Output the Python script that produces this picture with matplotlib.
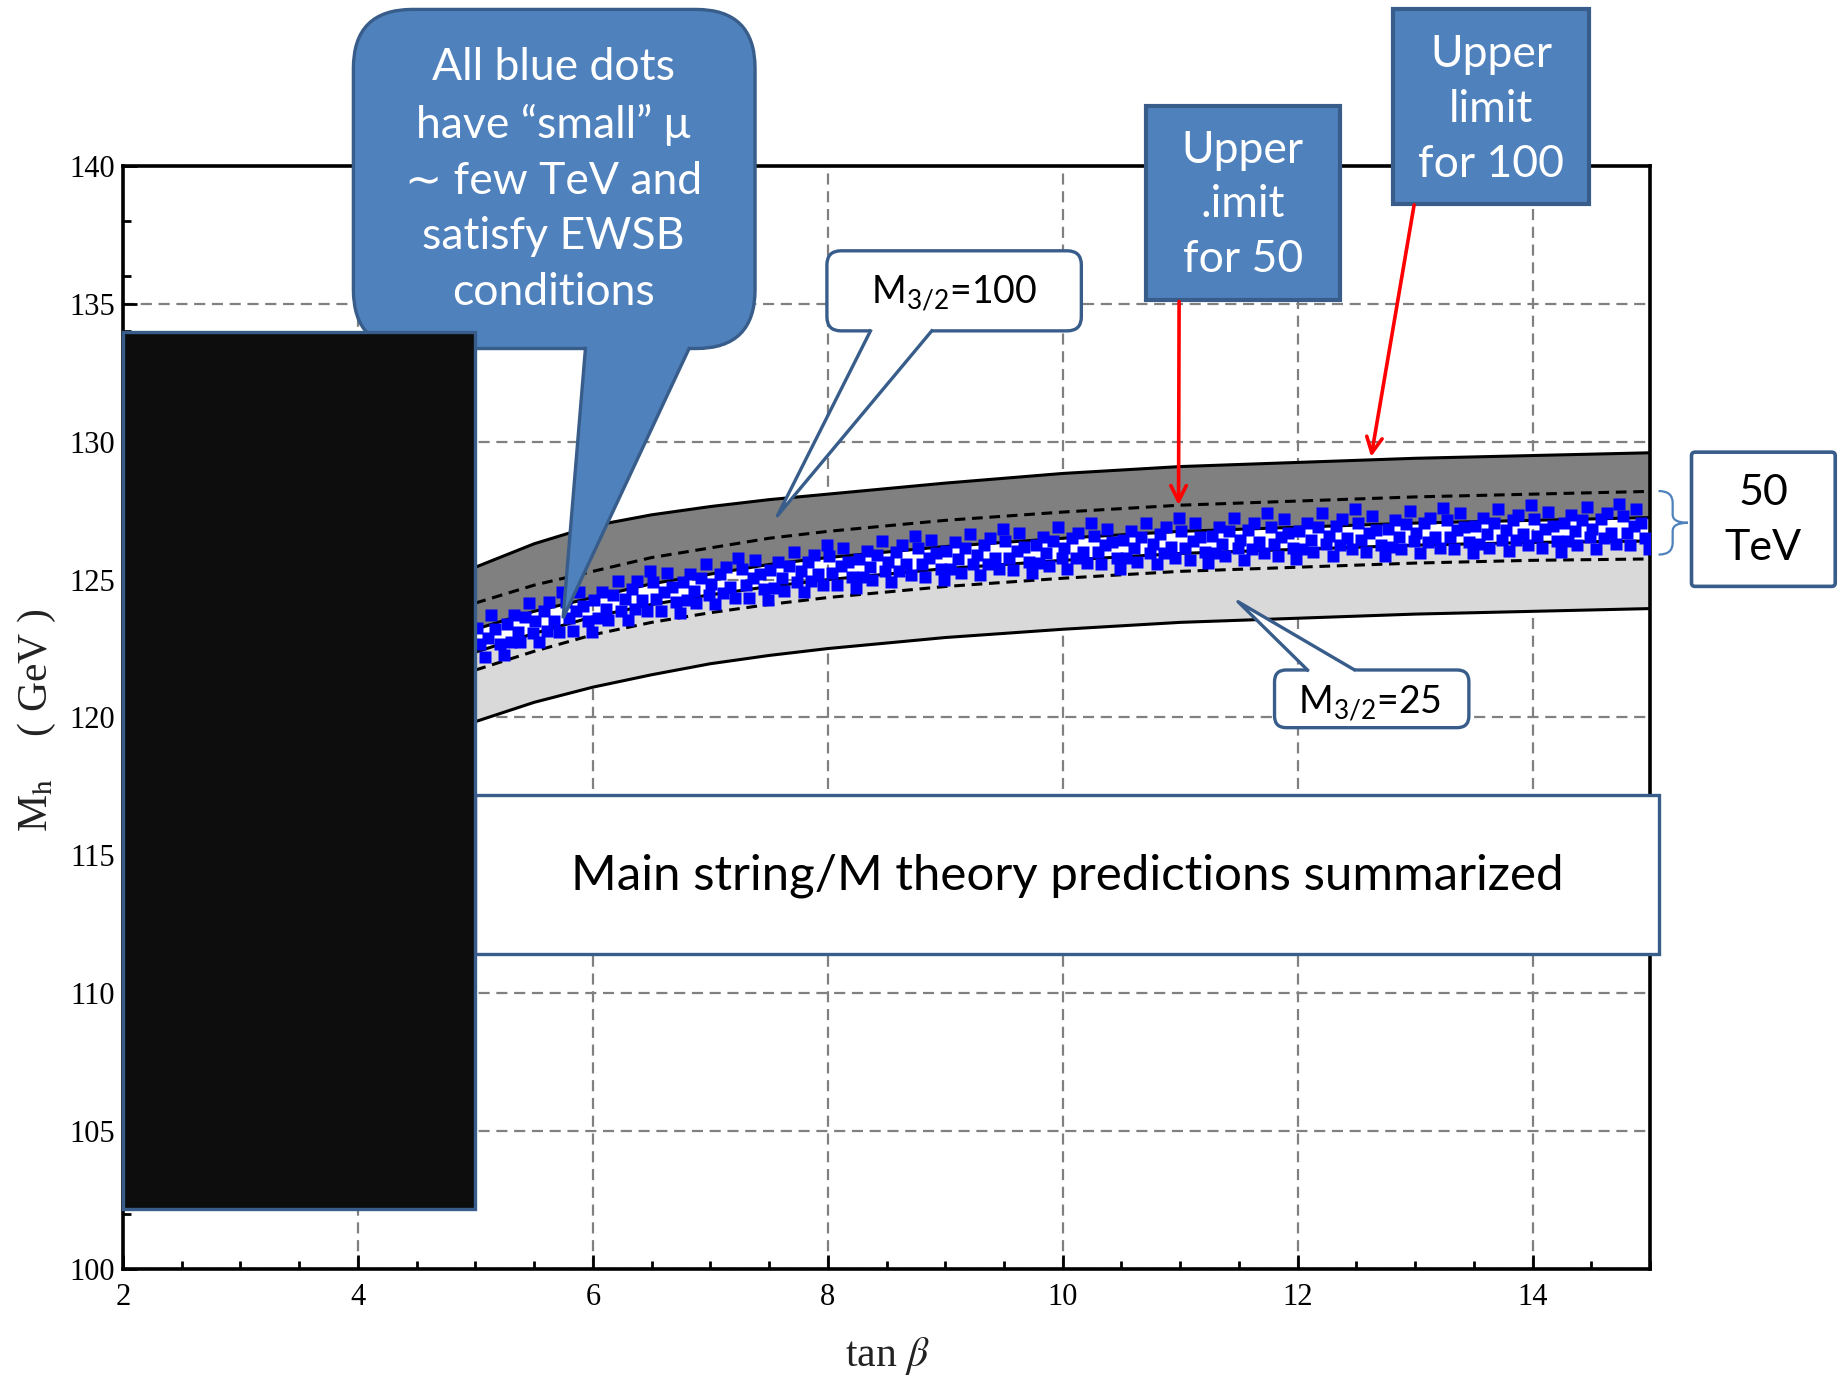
import matplotlib
matplotlib.use('Agg')
import matplotlib.pyplot as plt
from matplotlib.patches import FancyBboxPatch, Rectangle, Polygon, PathPatch
from matplotlib.path import Path

plt.rcParams['font.family'] = ['Lato', 'DejaVu Sans']
plt.rcParams['mathtext.fontset'] = 'custom'
plt.rcParams['mathtext.rm'] = 'Lato'
plt.rcParams['mathtext.it'] = 'Lato:italic'
plt.rcParams['mathtext.bf'] = 'Lato:bold'

# ---------------- data ----------------
band_tb = [5.0, 5.5, 6.0, 6.5, 7.0, 7.5, 8.0, 9.0, 10.0, 11.0, 12.0, 13.0, 14.0, 15.0]
upper_100 = [125.45, 126.3, 126.95, 127.35, 127.65, 127.9, 128.1, 128.5, 128.85, 129.1, 129.25, 129.4, 129.5, 129.6]
upper_50 = [124.15, 124.8, 125.3, 125.8, 126.15, 126.5, 126.75, 127.15, 127.45, 127.7, 127.85, 128.0, 128.1, 128.2]
lower_100 = [123.2, 123.85, 124.35, 124.85, 125.2, 125.55, 125.8, 126.2, 126.5, 126.75, 126.9, 127.05, 127.15, 127.25]
upper_25 = [122.37, 123.05, 123.65, 124.1, 124.45, 124.75, 125.0, 125.4, 125.7, 125.95, 126.1, 126.25, 126.35, 126.4]
lower_50 = [121.72, 122.4, 123.0, 123.45, 123.8, 124.1, 124.35, 124.75, 125.05, 125.3, 125.45, 125.6, 125.7, 125.75]
lower_25 = [119.85, 120.55, 121.1, 121.55, 121.95, 122.25, 122.5, 122.9, 123.2, 123.45, 123.6, 123.75, 123.85, 123.95]

dots_tb = [
    5.01, 5.04, 5.08, 5.11, 5.13, 5.17, 5.21, 5.24, 5.27, 5.30, 5.33, 5.36, 5.38, 5.42, 5.46, 5.49,
    5.51, 5.54, 5.58, 5.61, 5.63, 5.67, 5.71, 5.74, 5.77, 5.80, 5.83, 5.86, 5.88, 5.92, 5.96, 5.99,
    6.01, 6.04, 6.08, 6.11, 6.13, 6.17, 6.21, 6.24, 6.27, 6.30, 6.33, 6.36, 6.38, 6.42, 6.46, 6.49,
    6.51, 6.54, 6.58, 6.61, 6.63, 6.67, 6.71, 6.74, 6.77, 6.80, 6.83, 6.86, 6.88, 6.92, 6.96, 6.99,
    7.01, 7.04, 7.08, 7.11, 7.13, 7.17, 7.21, 7.24, 7.27, 7.30, 7.33, 7.36, 7.38, 7.42, 7.46, 7.49,
    7.51, 7.54, 7.58, 7.61, 7.63, 7.67, 7.71, 7.74, 7.77, 7.80, 7.83, 7.86, 7.88, 7.92, 7.96, 7.99,
    8.01, 8.04, 8.08, 8.11, 8.13, 8.17, 8.21, 8.24, 8.27, 8.30, 8.33, 8.36, 8.38, 8.42, 8.46, 8.49,
    8.51, 8.54, 8.58, 8.61, 8.63, 8.67, 8.71, 8.74, 8.77, 8.80, 8.83, 8.86, 8.88, 8.92, 8.96, 8.99,
    9.01, 9.04, 9.08, 9.11, 9.13, 9.17, 9.21, 9.24, 9.27, 9.30, 9.33, 9.36, 9.38, 9.42, 9.46, 9.49,
    9.51, 9.54, 9.58, 9.61, 9.63, 9.67, 9.71, 9.74, 9.77, 9.80, 9.83, 9.86, 9.88, 9.92, 9.96, 9.99,
    10.01, 10.04, 10.08, 10.11, 10.13, 10.17, 10.21, 10.24, 10.27, 10.30, 10.33, 10.36, 10.38, 10.42, 10.46, 10.49,
    10.51, 10.54, 10.58, 10.61, 10.63, 10.67, 10.71, 10.74, 10.77, 10.80, 10.83, 10.86, 10.88, 10.92, 10.96, 10.99,
    11.01, 11.04, 11.08, 11.11, 11.13, 11.17, 11.21, 11.24, 11.27, 11.30, 11.33, 11.36, 11.38, 11.42, 11.46, 11.49,
    11.51, 11.54, 11.58, 11.61, 11.63, 11.67, 11.71, 11.74, 11.77, 11.80, 11.83, 11.86, 11.88, 11.92, 11.96, 11.99,
    12.01, 12.04, 12.08, 12.11, 12.13, 12.17, 12.21, 12.24, 12.27, 12.30, 12.33, 12.36, 12.38, 12.42, 12.46, 12.49,
    12.51, 12.54, 12.58, 12.61, 12.63, 12.67, 12.71, 12.74, 12.77, 12.80, 12.83, 12.86, 12.88, 12.92, 12.96, 12.99,
    13.01, 13.04, 13.08, 13.11, 13.13, 13.17, 13.21, 13.24, 13.27, 13.30, 13.33, 13.36, 13.38, 13.42, 13.46, 13.49,
    13.51, 13.54, 13.58, 13.61, 13.63, 13.67, 13.71, 13.74, 13.77, 13.80, 13.83, 13.86, 13.88, 13.92, 13.96, 13.99,
    14.01, 14.04, 14.08, 14.11, 14.13, 14.17, 14.21, 14.24, 14.27, 14.30, 14.33, 14.36, 14.38, 14.42, 14.46, 14.49,
    14.51, 14.54, 14.58, 14.61, 14.63, 14.67, 14.71, 14.74, 14.77, 14.80, 14.83, 14.86, 14.88, 14.92, 14.96, 14.99,
]
dots_mh = [
    123.25, 122.65, 122.20, 122.90, 123.70, 123.20, 122.65, 122.25, 123.40, 122.75, 123.70, 123.10, 122.75, 123.65, 124.15, 123.05,
    123.50, 122.75, 123.85, 123.15, 124.20, 123.50, 123.10, 124.55, 124.20, 123.60, 123.15, 123.85, 124.55, 124.05, 123.50, 123.10,
    124.25, 123.60, 124.55, 123.95, 123.55, 124.45, 124.95, 123.85, 124.30, 123.55, 124.65, 123.95, 124.95, 124.25, 123.85, 125.30,
    124.90, 124.30, 123.85, 124.55, 125.25, 124.75, 124.20, 123.80, 124.90, 124.25, 125.20, 124.60, 124.15, 125.05, 125.55, 124.45,
    124.85, 124.10, 125.20, 124.50, 125.45, 124.75, 124.35, 125.80, 125.40, 124.80, 124.35, 125.05, 125.70, 125.20, 124.65, 124.25,
    125.35, 124.70, 125.65, 125.05, 124.60, 125.50, 126.00, 124.90, 125.30, 124.55, 125.65, 124.95, 125.90, 125.20, 124.80, 126.25,
    125.85, 125.25, 124.80, 125.50, 126.15, 125.65, 125.10, 124.70, 125.75, 125.10, 126.05, 125.45, 125.00, 125.90, 126.40, 125.30,
    125.65, 124.90, 126.00, 125.30, 126.25, 125.55, 125.15, 126.60, 126.15, 125.55, 125.10, 125.80, 126.45, 125.95, 125.40, 125.00,
    126.05, 125.40, 126.35, 125.75, 125.25, 126.15, 126.65, 125.55, 125.90, 125.15, 126.25, 125.55, 126.50, 125.80, 125.40, 126.85,
    126.40, 125.80, 125.35, 126.05, 126.70, 126.20, 125.65, 125.25, 126.25, 125.60, 126.55, 125.95, 125.50, 126.40, 126.90, 125.80,
    126.15, 125.40, 126.50, 125.80, 126.70, 126.00, 125.60, 127.05, 126.60, 126.00, 125.55, 126.25, 126.85, 126.35, 125.80, 125.40,
    126.45, 125.80, 126.75, 126.15, 125.65, 126.55, 127.05, 125.95, 126.30, 125.55, 126.65, 125.95, 126.90, 126.20, 125.80, 127.25,
    126.75, 126.15, 125.70, 126.40, 127.05, 126.55, 126.00, 125.60, 126.60, 125.95, 126.90, 126.30, 125.85, 126.75, 127.25, 126.15,
    126.45, 125.70, 126.80, 126.10, 127.05, 126.35, 125.95, 127.40, 126.90, 126.30, 125.85, 126.55, 127.20, 126.70, 126.15, 125.75,
    126.75, 126.10, 127.05, 126.45, 126.00, 126.90, 127.40, 126.30, 126.60, 125.85, 126.95, 126.25, 127.20, 126.50, 126.10, 127.55,
    127.05, 126.45, 126.00, 126.70, 127.30, 126.80, 126.25, 125.85, 126.85, 126.20, 127.15, 126.55, 126.10, 127.00, 127.50, 126.40,
    126.70, 125.95, 127.05, 126.35, 127.25, 126.55, 126.15, 127.60, 127.15, 126.55, 126.10, 126.80, 127.40, 126.90, 126.35, 125.95,
    126.95, 126.30, 127.25, 126.65, 126.15, 127.05, 127.55, 126.45, 126.80, 126.05, 127.15, 126.45, 127.35, 126.65, 126.25, 127.70,
    127.20, 126.60, 126.15, 126.85, 127.45, 126.95, 126.40, 126.00, 127.05, 126.40, 127.35, 126.75, 126.25, 127.15, 127.65, 126.55,
    126.85, 126.10, 127.20, 126.50, 127.40, 126.70, 126.30, 127.75, 127.30, 126.70, 126.25, 126.95, 127.55, 127.05, 126.50, 126.10,
]

x_ticks = [2, 4, 6, 8, 10, 12, 14]
y_ticks = [100, 105, 110, 115, 120, 125, 130, 135, 140]

callout_main = "All blue dots\nhave \u201csmall\u201d \u03bc\n\u223c few TeV and\nsatisfy EWSB\nconditions"
label_100 = r"M$_{3/2}$=100"
label_25 = r"M$_{3/2}$=25"
box50_text = "Upper\n.imit\nfor 50"
box100_text = "Upper\nlimit\nfor 100"
tev_text = "50\nTeV"
summary_text = "Main string/M theory predictions summarized"

# ---------------- figure ----------------
W, H = 1847, 1380
fig = plt.figure(figsize=(W / 100, H / 100), dpi=100)
ax = fig.add_axes([123 / W, 1 - 1269 / H, (1650 - 123) / W, (1269 - 166) / H])
ax.set_zorder(1)

ax.set_xlim(2, 15)
ax.set_ylim(100, 140)
ax.set_axisbelow(True)
ax.grid(True, which='major', color='#808080', lw=1.6, ls=(0, (5, 3)))

DARK = '#808080'
LIGHT = '#D9D9D9'
ax.fill_between(band_tb, lower_100, upper_100, color=DARK, lw=0, zorder=1)
ax.fill_between(band_tb, lower_25, upper_25, color=LIGHT, lw=0, zorder=1)
for ys in (upper_100, lower_100, upper_25, lower_25):
    ax.plot(band_tb, ys, color='black', lw=2.2, zorder=2)
for ys in (upper_50, lower_50):
    ax.plot(band_tb, ys, color='black', lw=2.2, ls=(0, (3.5, 2.2)), zorder=2)

ax.plot(dots_tb, dots_mh, ls='none', marker='s', ms=8, color='#0000FF',
        mec='none', zorder=3)

ax.set_xticks(x_ticks)
ax.set_yticks(y_ticks)
ax.set_xticks([t / 2 for t in range(4, 31) if t % 4 != 0], minor=True)
ax.set_yticks([v for v in range(102, 140, 2) if v % 10 != 0], minor=True)
ax.tick_params(which='major', direction='in', length=10, width=2, labelsize=22,
               top=False, right=False, pad=6)
ax.tick_params(axis='x', which='major', pad=10)
ax.tick_params(which='minor', direction='in', length=6, width=2, top=False, right=False)
for lab in ax.get_xticklabels() + ax.get_yticklabels():
    lab.set_family('Liberation Serif')
for sp in ax.spines.values():
    sp.set_linewidth(2.6)

# ---------------- overlay (pixel coords of the 1568x1172 view) ----------------
ov = fig.add_axes([0, 0, 1, 1])
ov.set_zorder(2)
ov.set_xlim(0, 1568)
ov.set_ylim(1172, 0)
ov.axis('off')
ov.patch.set_alpha(0)

FILL = '#4F81BD'
EDGE = '#385D8A'

# summary box
ov.add_patch(Rectangle((403, 675), 1005, 135, fc='white', ec=EDGE, lw=2.4, zorder=2))
ov.text(906, 744, summary_text, ha='center', va='center', fontsize=35.5, color='black', zorder=3)

# big callout
ov.add_patch(FancyBboxPatch((300, 8), 341, 288, boxstyle='round,pad=0,rounding_size=50',
                            fc=FILL, ec=EDGE, lw=2.4, zorder=4))
ov.add_patch(Polygon([(497.5, 290), (478, 525), (587.8, 290)], closed=True, fc=FILL,
                     ec='none', zorder=4))
ov.plot([497, 478, 585], [296, 525, 296], color=EDGE, lw=2.4, zorder=4,
        solid_joinstyle='miter')
ov.text(470, 153, callout_main, ha='center', va='center', fontsize=32, color='white',
        linespacing=1.45, zorder=5)

# black rectangle
ov.add_patch(Rectangle((104, 282), 299, 745, fc='#0D0D0D', ec=EDGE, lw=2.4, zorder=6))

# M3/2=100 callout
ov.add_patch(FancyBboxPatch((702, 213), 216, 68, boxstyle='round,pad=0,rounding_size=12',
                            fc='white', ec=EDGE, lw=2.4, zorder=4))
ov.add_patch(Polygon([(739.5, 278), (660, 438), (792.5, 278)], closed=True, fc='white',
                     ec='none', zorder=4))
ov.plot([739, 660, 791], [281, 438, 281], color=EDGE, lw=2.4, zorder=4)
ov.text(810, 249, label_100, ha='center', va='center', fontsize=27, color='black',
        math_fontfamily='custom', zorder=5)

# M3/2=25 callout
ov.add_patch(FancyBboxPatch((1082, 569), 165, 49, boxstyle='round,pad=0,rounding_size=10',
                            fc='white', ec=EDGE, lw=2.4, zorder=4))
ov.add_patch(Polygon([(1113, 572), (1051, 511), (1154, 572)], closed=True, fc='white',
                     ec='none', zorder=4))
ov.plot([1110, 1051, 1150], [569, 511, 569], color=EDGE, lw=2.4, zorder=4)
ov.text(1163, 597, label_25, ha='center', va='center', fontsize=27, color='black',
        math_fontfamily='custom', zorder=5)

# Upper limit boxes
ov.add_patch(Rectangle((973, 90), 165, 165, fc=FILL, ec=EDGE, lw=3, zorder=4))
ov.text(1055, 174, box50_text, ha='center', va='center', fontsize=32, color='white',
        linespacing=1.42, zorder=5)
ov.add_patch(Rectangle((1183, 8), 166, 165, fc=FILL, ec=EDGE, lw=3, zorder=4))
ov.text(1266, 93, box100_text, ha='center', va='center', fontsize=32, color='white',
        linespacing=1.42, zorder=5)

# red arrows
arrow_kw = dict(arrowstyle='->', color='#FF0000', lw=2.6, mutation_scale=28,
                shrinkA=0, shrinkB=0)
ov.annotate('', xy=(1000.5, 429), xytext=(1001, 256), arrowprops=arrow_kw, zorder=5)
ov.annotate('', xy=(1164, 388), xytext=(1200.5, 174), arrowprops=arrow_kw, zorder=5)

# 50 TeV box and brace
ov.add_patch(FancyBboxPatch((1436, 384), 122, 114, boxstyle='round,pad=0,rounding_size=3',
                            fc='white', ec=EDGE, lw=2.6, zorder=4))
ov.text(1497, 442, tev_text, ha='center', va='center', fontsize=31, color='black',
        linespacing=1.52, zorder=5)
brace = Path([(1408, 417), (1420, 417), (1420, 427), (1420, 437),
              (1420, 444), (1433, 444), (1420, 444), (1420, 451),
              (1420, 461), (1420, 471), (1408, 471)],
             [Path.MOVETO, Path.CURVE3, Path.CURVE3, Path.LINETO,
              Path.CURVE3, Path.CURVE3, Path.CURVE3, Path.CURVE3,
              Path.LINETO, Path.CURVE3, Path.CURVE3])
ov.add_patch(PathPatch(brace, fc='none', ec=FILL, lw=1.6, zorder=4))

# axis labels
ov.text(753, 1152, r"tan $\beta$", ha='center', va='center', fontsize=30,
        family='Liberation Serif', math_fontfamily='stix', color='#222222')
ov.text(31, 612, r"M$_{\mathrm{h}}$    ( GeV )", ha='center', va='center', fontsize=30,
        rotation=90, family='Liberation Serif', math_fontfamily='stix', color='#222222')

fig.savefig('out.png', dpi=100)
